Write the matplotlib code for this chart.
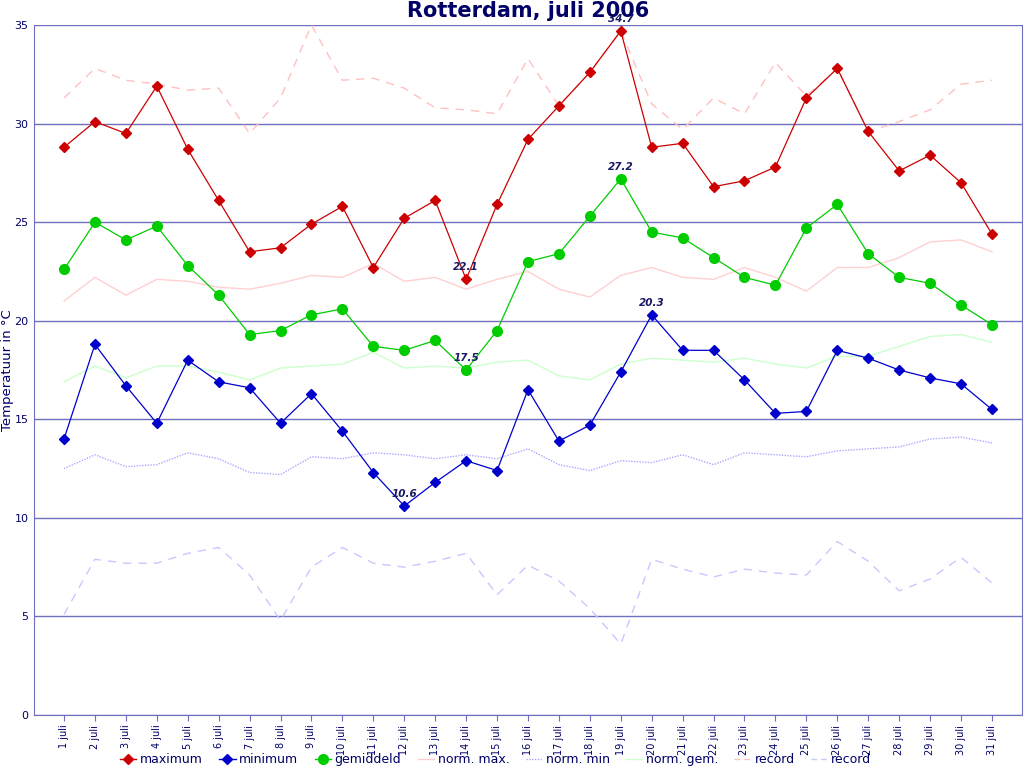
import matplotlib
matplotlib.use("Agg")
import matplotlib.pyplot as plt
from matplotlib.lines import Line2D

days = list(range(1, 32))
day_labels = [f"{d} juli" for d in days]

maximum = [28.8, 30.1, 29.5, 31.9, 28.7, 26.1, 23.5, 23.7, 24.9, 25.8,
           22.7, 25.2, 26.1, 22.1, 25.9, 29.2, 30.9, 32.6, 34.7, 28.8,
           29.0, 26.8, 27.1, 27.8, 31.3, 32.8, 29.6, 27.6, 28.4, 27.0, 24.4]
minimum = [14.0, 18.8, 16.7, 14.8, 18.0, 16.9, 16.6, 14.8, 16.3, 14.4,
           12.3, 10.6, 11.8, 12.9, 12.4, 16.5, 13.9, 14.7, 17.4, 20.3,
           18.5, 18.5, 17.0, 15.3, 15.4, 18.5, 18.1, 17.5, 17.1, 16.8, 15.5]
gemiddeld = [22.6, 25.0, 24.1, 24.8, 22.8, 21.3, 19.3, 19.5, 20.3, 20.6,
             18.7, 18.5, 19.0, 17.5, 19.5, 23.0, 23.4, 25.3, 27.2, 24.5,
             24.2, 23.2, 22.2, 21.8, 24.7, 25.9, 23.4, 22.2, 21.9, 20.8, 19.8]
norm_max = [21.0, 22.2, 21.3, 22.1, 22.0, 21.7, 21.6, 21.9, 22.3, 22.2,
            22.9, 22.0, 22.2, 21.6, 22.1, 22.5, 21.6, 21.2, 22.3, 22.7,
            22.2, 22.1, 22.7, 22.2, 21.5, 22.7, 22.7, 23.2, 24.0, 24.1, 23.5]
norm_min = [12.5, 13.2, 12.6, 12.7, 13.3, 13.0, 12.3, 12.2, 13.1, 13.0,
            13.3, 13.2, 13.0, 13.2, 13.0, 13.5, 12.7, 12.4, 12.9, 12.8,
            13.2, 12.7, 13.3, 13.2, 13.1, 13.4, 13.5, 13.6, 14.0, 14.1, 13.8]
norm_gem = [16.9, 17.7, 17.1, 17.7, 17.7, 17.4, 17.0, 17.6, 17.7, 17.8,
            18.4, 17.6, 17.7, 17.6, 17.9, 18.0, 17.2, 17.0, 17.8, 18.1,
            18.0, 17.9, 18.1, 17.8, 17.6, 18.2, 18.2, 18.7, 19.2, 19.3, 18.9]
record_max = [31.3, 32.8, 32.2, 32.0, 31.7, 31.8, 29.5, 31.3, 35.0, 32.2,
              32.3, 31.8, 30.8, 30.7, 30.5, 33.3, 30.9, 32.6, 34.7, 31.0,
              29.7, 31.3, 30.5, 33.1, 31.4, 32.8, 29.6, 30.1, 30.7, 32.0, 32.2]
record_min = [5.1, 7.9, 7.7, 7.7, 8.2, 8.5, 7.1, 4.8, 7.5, 8.5,
              7.7, 7.5, 7.8, 8.2, 6.1, 7.6, 6.8, 5.4, 3.6, 7.9,
              7.4, 7.0, 7.4, 7.2, 7.1, 8.8, 7.8, 6.3, 6.9, 8.0, 6.7]

# annotated extremes: (series, day)
annotations = [(maximum, 19), (maximum, 14), (gemiddeld, 19), (gemiddeld, 14),
               (minimum, 20), (minimum, 12)]

navy = "#000066"
grid_col = "#6f6fbf"

fig = plt.figure(figsize=(10.24, 7.68), dpi=100)
ax = fig.add_axes([0.0332, 0.069, 0.9648, 0.8984])

ax.plot(days, norm_max, color="#ffd0d0", lw=1, zorder=2)
ax.plot(days, norm_min, color="#aaaaff", lw=1, ls=(0, (1, 1)), zorder=2)
ax.plot(days, norm_gem, color="#ccffcc", lw=1, zorder=2)
ax.plot(days, record_max, color="#ffc0c0", lw=1, ls=(0, (6, 5)), zorder=2)
ax.plot(days, record_min, color="#c8c8ff", lw=1, ls=(0, (6, 5)), zorder=2)

ax.plot(days, maximum, color="#cc0000", lw=0.9, marker="D", ms=5, zorder=4)
ax.plot(days, minimum, color="#0000cc", lw=0.9, marker="D", ms=5, zorder=4)
ax.plot(days, gemiddeld, color="#00cc00", lw=0.9, marker="o", ms=7, zorder=4)

for series, d in annotations:
    v = series[d - 1]
    ax.annotate(f"{v:.1f}", (d, v), xytext=(0, 5), textcoords="offset points",
                ha="center", va="bottom", fontsize=7.5, fontweight="bold",
                fontstyle="italic", color="#1a1a66", zorder=5)

ax.set_xlim(0.03, 31.97)
ax.set_ylim(0, 35)
ax.set_yticks([0, 5, 10, 15, 20, 25, 30, 35])
ax.set_xticks(days)
ax.set_xticklabels(day_labels, rotation=90, fontsize=7, color=navy)
ax.tick_params(axis="y", labelsize=8, labelcolor=navy, length=0, pad=4)
ax.tick_params(axis="x", length=4, color=grid_col, pad=3)
ax.yaxis.grid(True, color=grid_col, lw=1)
ax.set_axisbelow(True)
for s in ["left", "bottom", "right"]:
    ax.spines[s].set_color(grid_col)
ax.spines["top"].set_visible(False)
ax.set_ylabel("Temperatuur in °C", color=navy, fontsize=9.5)
ax.yaxis.set_label_coords(-0.0205, 0.5)

fig.text(0.5156, 0.986, "Rotterdam, juli 2006", ha="center", va="center",
         fontsize=15, fontweight="bold", color=navy)

handles = [
    Line2D([], [], color="#cc0000", marker="D", ms=5, lw=1),
    Line2D([], [], color="#0000cc", marker="D", ms=5, lw=1),
    Line2D([], [], color="#00cc00", marker="o", ms=7, lw=1),
    Line2D([], [], color="#ffcccc", lw=1),
    Line2D([], [], color="#aaaaff", lw=1, ls=(0, (1, 1))),
    Line2D([], [], color="#ccffcc", lw=1),
    Line2D([], [], color="#ffc0c0", lw=1, ls=(0, (4, 3))),
    Line2D([], [], color="#c8c8ff", lw=1, ls=(0, (4, 3))),
]
labels = ["maximum", "minimum", "gemiddeld", "norm. max.", "norm. min",
          "norm. gem.", "record", "record"]
leg = fig.legend(handles, labels, loc="center", bbox_to_anchor=(0.484, 0.011),
                 ncol=8, frameon=False, fontsize=9, handlelength=1.3,
                 handletextpad=0.3, columnspacing=1.3)
for t in leg.get_texts():
    t.set_color(navy)

fig.savefig("out.png", dpi=100)
